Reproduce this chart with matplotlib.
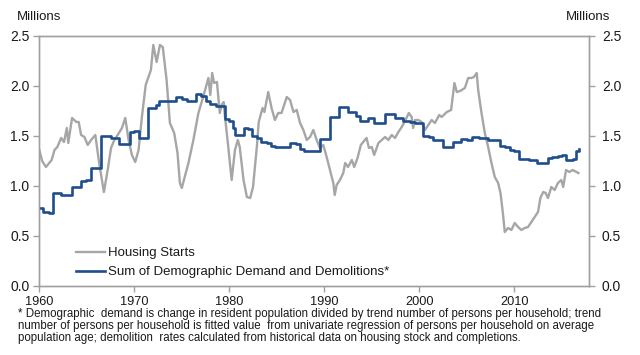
import matplotlib
matplotlib.use("Agg")
import matplotlib.pyplot as plt

plt.rcParams['font.family'] = ['Liberation Sans', 'DejaVu Sans']

# Housing starts (millions)
starts_year = [1960.0, 1960.3, 1960.7, 1961.05, 1961.3, 1961.6, 1961.9, 1962.3, 1962.6, 1962.9,
               1963.05, 1963.45, 1963.9, 1964.15, 1964.4, 1964.75, 1965.1, 1965.45, 1965.9, 1966.3,
               1966.8, 1967.2, 1967.55, 1967.9, 1968.25, 1968.7, 1969.05, 1969.4, 1969.75, 1970.1,
               1970.45, 1970.8, 1971.2, 1971.75, 1972.0, 1972.35, 1972.7, 1973.0, 1973.4, 1973.75,
               1974.2, 1974.55, 1974.8, 1975.0, 1975.7, 1976.2, 1976.75, 1977.25, 1977.8, 1978.0,
               1978.2, 1978.4, 1978.7, 1979.0, 1979.2, 1979.4, 1979.55, 1979.85, 1980.25, 1980.6,
               1980.9, 1981.1, 1981.5, 1981.85, 1982.2, 1982.5, 1982.9, 1983.1, 1983.5, 1983.7,
               1984.1, 1984.45, 1984.8, 1985.15, 1985.5, 1986.05, 1986.4, 1986.75, 1987.1, 1987.45,
               1987.8, 1988.15, 1988.5, 1988.85, 1989.2, 1989.55, 1989.9, 1990.25, 1990.6, 1990.95,
               1991.1, 1991.3, 1991.65, 1992.0, 1992.2, 1992.5, 1992.9, 1993.15, 1993.5, 1993.85,
               1994.1, 1994.45, 1994.7, 1995.0, 1995.25, 1995.7, 1996.05, 1996.4, 1996.75, 1997.1,
               1997.45, 1997.8, 1998.15, 1998.55, 1998.9, 1999.2, 1999.35, 1999.55, 1999.9, 2000.25,
               2000.6, 2000.95, 2001.3, 2001.65, 2002.1, 2002.35, 2002.9, 2003.35, 2003.7, 2003.95,
               2004.3, 2004.8, 2005.15, 2005.5, 2005.75, 2006.05, 2006.2, 2006.55, 2006.9, 2007.25,
               2007.6, 2007.95, 2008.3, 2008.55, 2008.8, 2009.0, 2009.35, 2009.7, 2010.05, 2010.4,
               2010.75, 2011.1, 2011.45, 2011.8, 2012.15, 2012.5, 2012.75, 2013.05, 2013.3, 2013.55,
               2013.9, 2014.25, 2014.6, 2014.95, 2015.15, 2015.45, 2015.8, 2016.15, 2016.55, 2016.75]
starts_value = [1.36, 1.25, 1.19, 1.23, 1.26, 1.36, 1.39, 1.48, 1.44, 1.58,
                1.43, 1.68, 1.64, 1.64, 1.51, 1.49, 1.41, 1.46, 1.51, 1.23,
                0.94, 1.16, 1.38, 1.46, 1.51, 1.58, 1.68, 1.46, 1.31, 1.24,
                1.36, 1.69, 2.01, 2.16, 2.41, 2.24, 2.41, 2.39, 2.06, 1.63,
                1.53, 1.33, 1.03, 0.98, 1.23, 1.45, 1.73, 1.89, 2.08, 1.91,
                2.13, 2.03, 2.04, 1.73, 1.81, 1.84, 1.69, 1.43, 1.06, 1.36,
                1.46, 1.39, 1.06, 0.89, 0.88, 0.99, 1.39, 1.64, 1.78, 1.74,
                1.94, 1.78, 1.66, 1.73, 1.73, 1.89, 1.86, 1.74, 1.76, 1.63,
                1.56, 1.46, 1.49, 1.56, 1.46, 1.38, 1.41, 1.29, 1.16, 1.03,
                0.91, 1.01, 1.06, 1.13, 1.23, 1.19, 1.26, 1.19, 1.28, 1.41,
                1.44, 1.48, 1.38, 1.39, 1.31, 1.43, 1.46, 1.49, 1.46, 1.51,
                1.48, 1.54, 1.59, 1.66, 1.73, 1.69, 1.58, 1.66, 1.66, 1.64,
                1.56, 1.61, 1.66, 1.63, 1.71, 1.69, 1.74, 1.76, 2.03, 1.94,
                1.95, 1.98, 2.08, 2.08, 2.09, 2.13, 1.96, 1.73, 1.53, 1.39,
                1.23, 1.09, 1.03, 0.93, 0.73, 0.54, 0.58, 0.56, 0.63, 0.59,
                0.56, 0.58, 0.59, 0.64, 0.69, 0.74, 0.88, 0.94, 0.93, 0.88,
                0.99, 0.96, 1.03, 1.06, 0.99, 1.16, 1.14, 1.16, 1.14, 1.13]

# Sum of demographic demand and demolitions (millions), step series
demand_year = [1960.0, 1960.4, 1961.0, 1961.45, 1962.3, 1963.45, 1964.4, 1964.9, 1965.45, 1966.5,
               1967.55, 1968.4, 1969.5, 1970.0, 1970.5, 1971.4, 1972.3, 1972.6, 1974.4, 1975.0,
               1975.6, 1976.5, 1977.0, 1977.5, 1978.0, 1978.6, 1979.5, 1980.0, 1980.4, 1980.6,
               1981.5, 1982.0, 1982.4, 1982.9, 1983.3, 1984.0, 1984.4, 1984.8, 1986.4, 1987.0,
               1987.4, 1987.9, 1989.5, 1990.55, 1991.5, 1992.45, 1993.3, 1993.75, 1994.6, 1995.2,
               1996.4, 1997.4, 1998.3, 1999.0, 1999.5, 2000.4, 2001.0, 2001.45, 2002.5, 2003.55,
               2004.4, 2005.0, 2005.5, 2006.3, 2007.2, 2008.45, 2009.0, 2009.5, 2010.0, 2010.55,
               2011.5, 2012.4, 2013.5, 2014.0, 2014.6, 2015.0, 2015.45, 2016.2, 2016.5, 2016.85]
demand_value = [0.78, 0.74, 0.73, 0.93, 0.91, 0.99, 1.05, 1.06, 1.18, 1.50,
                1.48, 1.42, 1.54, 1.55, 1.48, 1.78, 1.81, 1.85, 1.89, 1.87,
                1.85, 1.92, 1.90, 1.85, 1.82, 1.80, 1.67, 1.65, 1.58, 1.51,
                1.58, 1.57, 1.50, 1.48, 1.44, 1.43, 1.40, 1.39, 1.43, 1.42,
                1.37, 1.35, 1.47, 1.69, 1.79, 1.74, 1.70, 1.65, 1.68, 1.63,
                1.72, 1.68, 1.65, 1.64, 1.63, 1.50, 1.49, 1.46, 1.39, 1.44,
                1.47, 1.46, 1.49, 1.48, 1.46, 1.40, 1.39, 1.36, 1.35, 1.27,
                1.26, 1.23, 1.28, 1.29, 1.30, 1.31, 1.26, 1.27, 1.35, 1.37]

x_ticks = [1960, 1970, 1980, 1990, 2000, 2010]
y_ticks = [0.0, 0.5, 1.0, 1.5, 2.0, 2.5]

GRAY = '#A6A6A6'
BLUE = '#1F4E8C'
SPINE = '#A0A0A0'
TXT = '#1A1A1A'

fig = plt.figure(figsize=(6.4, 3.55), dpi=100)
ax = fig.add_axes([0.0614, 0.1944, 0.8594, 0.7042])

ax.plot(starts_year, starts_value, color=GRAY, lw=1.7, label='Housing Starts', zorder=2)
ax.step(demand_year, demand_value, where='post', color=BLUE, lw=1.9,
        label='Sum of Demographic Demand and Demolitions*', zorder=3)

ax.set_xlim(1960, 2017.9)
ax.set_ylim(0, 2.5)
ax.set_xticks(x_ticks)
ax.set_xticklabels([str(t) for t in x_ticks])
ax.set_yticks(y_ticks)
ax.set_yticklabels([f'{t:.1f}' for t in y_ticks])

for s in ax.spines.values():
    s.set_color(SPINE)
    s.set_linewidth(1.0)
ax.tick_params(axis='both', colors=SPINE, labelcolor=TXT, length=4, width=1.0)
ax.tick_params(axis='y', labelsize=10, pad=3)
ax.tick_params(axis='x', labelsize=9.2, pad=3)

ax2 = ax.twinx()
ax2.set_ylim(0, 2.5)
ax2.set_yticks(y_ticks)
ax2.set_yticklabels([f'{t:.1f}' for t in y_ticks])
for s in ax2.spines.values():
    s.set_color(SPINE)
    s.set_linewidth(1.0)
ax2.tick_params(axis='y', colors=SPINE, labelcolor=TXT, length=4, width=1.0, labelsize=10, pad=5)

fig.text(17 / 640, 1 - 16.7 / 355, 'Millions', fontsize=9.5, color=TXT, ha='left', va='center')
fig.text(610 / 640, 1 - 16.7 / 355, 'Millions', fontsize=9.5, color=TXT, ha='right', va='center')

leg = ax.legend(loc='lower left', bbox_to_anchor=(67 / 640, 1 - 287.5 / 355),
                bbox_transform=fig.transFigure, frameon=False, fontsize=9.5,
                handlelength=2.2, handletextpad=0.2, labelspacing=0.5, borderpad=0.2)
for t in leg.get_texts():
    t.set_color(TXT)

note = ("* Demographic  demand is change in resident population divided by trend number of persons per household; trend\n"
        "number of persons per household is fitted value  from univariate regression of persons per household on average\n"
        "population age; demolition  rates calculated from historical data on housing stock and completions.")
fig.text(18 / 640, 1 - 308.5 / 355, note, fontsize=8.3, color=TXT, ha='left', va='top',
         linespacing=1.0)

fig.savefig('out.png', dpi=100)
